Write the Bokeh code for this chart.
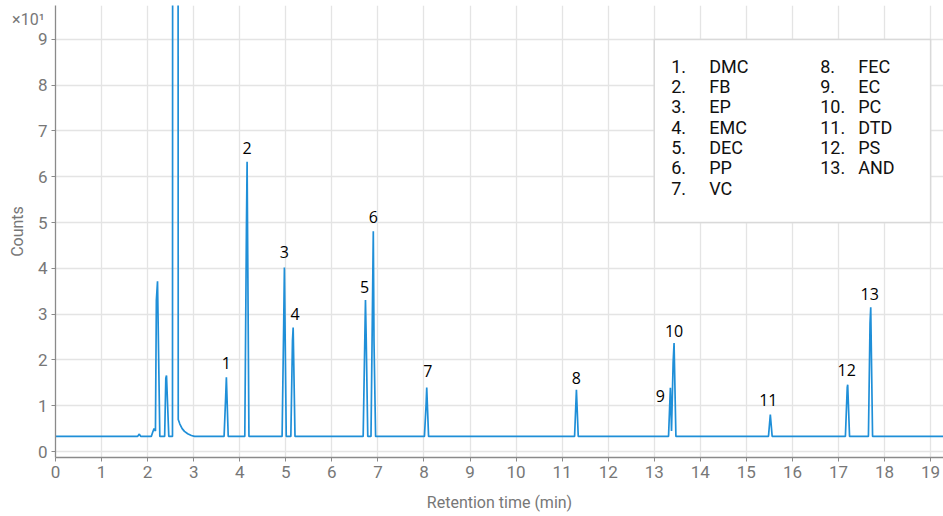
from bokeh.plotting import figure
from bokeh.models import FixedTicker, Range1d, ColumnDataSource, LinearAxis
from bokeh.core.properties import value
from bokeh.embed import file_html
from bokeh.resources import INLINE

# ---- data (counts in units of x10^1) ----
trace_rt = [0.00, 1.78, 1.82, 1.85, 2.08, 2.11, 2.14, 2.17, 2.19, 2.215, 2.265,
            2.37, 2.395, 2.41, 2.46, 2.54, 2.60, 2.665, 2.70, 2.75, 2.80, 2.87, 2.95, 3.02,
            3.66, 3.695, 3.71, 3.75,
            4.11, 4.145, 4.16, 4.20,
            4.92, 4.955, 4.97, 5.01,
            5.11, 5.145, 5.16, 5.20,
            6.68, 6.73, 6.745, 6.78,
            6.85, 6.90, 6.915, 6.95,
            8.01, 8.045, 8.06, 8.10,
            11.27, 11.31, 11.35,
            13.31, 13.35, 13.375, 13.41, 13.43, 13.47,
            15.48, 15.52, 15.56,
            17.15, 17.19, 17.20, 17.24,
            17.65, 17.685, 17.70, 17.74,
            19.30]
trace_counts = [0.33, 0.33, 0.38, 0.33, 0.33, 0.42, 0.50, 0.45, 3.30, 3.72, 0.33,
                0.33, 1.60, 1.66, 0.33, 0.33, 200.0, 0.70, 0.60, 0.50, 0.44, 0.39, 0.35, 0.33,
                0.33, 1.20, 1.62, 0.33,
                0.33, 4.82, 6.33, 0.33,
                0.33, 2.82, 4.02, 0.33,
                0.33, 2.42, 2.71, 0.33,
                0.33, 3.31, 2.53, 0.33,
                0.33, 4.81, 2.42, 0.33,
                0.33, 1.00, 1.40, 0.33,
                0.33, 1.35, 0.33,
                0.33, 1.39, 0.45, 1.95, 2.37, 0.33,
                0.33, 0.81, 0.33,
                0.33, 1.40, 1.46, 0.33,
                0.33, 2.80, 3.15, 0.33,
                0.33]

peak_no = ["1", "2", "3", "4", "5", "6", "7", "8", "9", "10", "11", "12", "13"]
peak_rt = [3.71, 4.16, 4.97, 5.16, 6.73, 6.90, 8.06, 11.31, 13.35, 13.43, 15.52, 17.20, 17.70]
peak_counts = [1.62, 6.33, 4.02, 2.71, 3.31, 4.81, 1.40, 1.35, 1.39, 2.37, 0.81, 1.46, 3.15]
compounds = ["DMC", "FB", "EP", "EMC", "DEC", "PP", "VC",
             "FEC", "EC", "PC", "DTD", "PS", "AND"]

x_ticks = list(range(0, 20))
y_ticks = list(range(0, 10))
y_multiplier_text = "\u00d710\u00b9"
y_multiplier_pos = 9.44

# ---- styles ----
LINE = "#1f8fd8"
GRAY = "#777777"
GRID = "#e4e4e4"
AX = "#8a8a8a"

p = figure(width=943, height=516, output_backend="svg", toolbar_location=None,
           x_range=Range1d(0, 19.28), y_range=Range1d(-0.13, 9.74),
           y_axis_location=None,
           min_border_left=55, min_border_right=0, min_border_top=5, min_border_bottom=59)
p.outline_line_color = None
p.background_fill_color = "white"

yax = LinearAxis(ticker=FixedTicker(ticks=y_ticks))
yax2 = LinearAxis(ticker=FixedTicker(ticks=[y_multiplier_pos]),
                  major_label_overrides={y_multiplier_pos: y_multiplier_text},
                  axis_label="Counts")
p.add_layout(yax, "left")
p.add_layout(yax2, "left")

for ax in (p.xaxis[0], yax, yax2):
    ax.axis_line_color = AX
    ax.axis_line_width = 1.3
    ax.major_tick_line_color = AX
    ax.major_tick_out = 4
    ax.major_tick_in = 0
    ax.minor_tick_line_color = None
    ax.major_label_text_font = "Roboto"
    ax.major_label_text_font_size = "17px"
    ax.major_label_text_color = GRAY
    ax.axis_label_text_font = "Roboto"
    ax.axis_label_text_font_size = "16px"
    ax.axis_label_text_color = GRAY
    ax.axis_label_text_font_style = "normal"

yax2.axis_line_color = None
yax2.major_tick_line_color = None
yax2.major_tick_out = 0
yax2.major_label_text_font_size = "16px"
yax2.major_label_standoff = -10
yax2.axis_label_standoff = -18
yax.major_label_standoff = 4

p.xaxis.ticker = FixedTicker(ticks=x_ticks)
p.xaxis.axis_label = "Retention time (min)"
p.xaxis.major_label_standoff = 4
p.xaxis.axis_label_standoff = 12

p.xgrid.ticker = FixedTicker(ticks=x_ticks)
p.ygrid.ticker = FixedTicker(ticks=y_ticks)
p.xgrid.grid_line_color = GRID
p.ygrid.grid_line_color = GRID
p.xgrid.grid_line_width = 1.3
p.ygrid.grid_line_width = 1.3

# chromatogram trace
p.line(trace_rt, trace_counts, line_color=LINE, line_width=1.7)

# peak number labels
label_dx = [0, 0, 0, 2, -1, 0, 1, 0, -10, 0, -2, -1, -1]
label_dy = [-14, -14, -15, -13, -13, -14, -16, -12, 8, -12, -14, -15, -13]
lab_src = ColumnDataSource(dict(x=peak_rt, y=peak_counts, t=peak_no, dx=label_dx, dy=label_dy))
p.text(x="x", y="y", text="t", x_offset="dx", y_offset="dy", source=lab_src,
       text_font=value("Open Sans"), text_font_size="16px", text_color="black",
       text_align="center", text_baseline="middle")

# compound key box
p.quad(left=[13.0], right=[19.0], top=[9.0], bottom=[5.0],
       fill_color="white", line_color="#d9d9d9", line_width=1.5)
n_first = 7
key_x, key_y, key_t, key_dx, key_dy = [], [], [], [], []
for i, name in enumerate(compounds):
    col = 0 if i < n_first else 1
    row = i if i < n_first else i - n_first
    for t, dx in ((f"{i + 1}.", 17 + col * 149), (name, 55 + col * 149)):
        key_x.append(13.0)
        key_y.append(9.0)
        key_t.append(t)
        key_dx.append(dx)
        key_dy.append(27 + row * 20.3)
key_src = ColumnDataSource(dict(x=key_x, y=key_y, t=key_t, dx=key_dx, dy=key_dy))
p.text(x="x", y="y", text="t", x_offset="dx", y_offset="dy", source=key_src,
       text_font=value("Roboto"), text_font_size="18px", text_color="#111111",
       text_align="left", text_baseline="middle")

open("out.html", "w").write(file_html(p, INLINE))
